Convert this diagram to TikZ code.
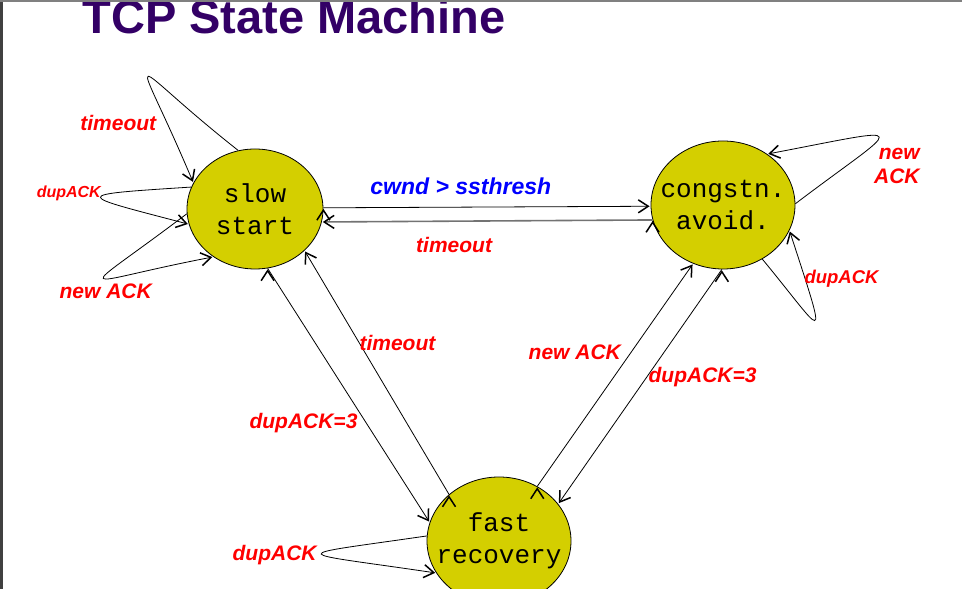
\documentclass[tikz,border=0pt]{standalone}
\usepackage{fontspec}
\setsansfont{Liberation Sans}
\setmonofont{Liberation Mono}
\usetikzlibrary{positioning, shapes.geometric, arrows.meta}
\definecolor{statefill}{RGB}{212,207,0}
\definecolor{titlepurple}{RGB}{51,0,102}
\tikzset{->, >={Straight Barb[length=10pt,width=13pt,line width=1.5pt,color=black]},
  fsm/.style={ellipse, draw, fill=statefill, inner xsep=-40pt, inner ysep=0pt,
    font=\ttfamily\fontsize{26}{32}\selectfont, align=center},
  lbl/.style={font=\sffamily\bfseries\itshape\fontsize{#1}{#1}\selectfont, text=red, inner sep=0pt},
  lbl/.default=21}

\begin{document}
\begin{tikzpicture}[x=1pt, y=1pt, shorten >=1pt, on grid, line width=0.8pt]
  \useasboundingbox (0,0) rectangle (962,589);
  \clip (0,0) rectangle (962,589);

  \node[anchor=base west, inner sep=0pt, text=titlepurple,
    font=\sffamily\bfseries\fontsize{47}{54}\selectfont] (title) at (82,555)
    {TCP State Machine};

  \node[fsm, minimum width=136pt, minimum height=120pt] (slow) at (255,380) {slow\\start};
  \node[fsm, minimum width=144pt, minimum height=128pt] (cong)
    [above right=4pt and 468pt of slow] {congstn.\\avoid.};
  \node[fsm, minimum width=144pt, minimum height=128pt] (fast)
    [below right=332pt and 244pt of slow] {fast\\recovery};

  \draw (slow.1) edge node[lbl=23, text=blue, pos=0.42, yshift=21pt] (lcwnd) {cwnd > ssthresh} (cong.181);
  \draw[black!55, line width=1.6pt] (cong.192) edge node[lbl, pos=0.6, yshift=-24pt] (ltimeout) {timeout} (slow.-11);

  \draw (slow.-78) edge node[lbl, pos=0.61, xshift=-63pt] (ldupl) {dupACK=3} (fast.165);
  \draw (fast.137) edge node[lbl, pos=0.62, xshift=38pt] (ltimeoutf) {timeout} (slow.-40);
  \draw (fast.55) edge node[lbl, pos=0.6, xshift=-56pt] (lnewf) {new ACK} (cong.243);
  \draw (cong.269) edge node[lbl, pos=0.46, xshift=56pt] (ldupr) {dupACK=3} (fast.32);

  % loops
  \draw (slow.106) .. controls +(-118,93) and +(-62,147) .. (slow.157)
    node[lbl, pos=0.5, xshift=-30pt, yshift=-46pt] (lslowto) {timeout};
  \draw (slow.161) .. controls +(-124,-8) and +(-114,30) .. (slow.193)
    node[lbl=16, pos=0.5, xshift=-32pt, yshift=4pt] (lslowdup) {dupACK};
  \draw (slow.184) .. controls +(-116,-88) and +(-141,-27) .. (slow.229)
    node[lbl, pos=0.5, xshift=2pt, yshift=-13pt] (lslownew) {new ACK};
  \draw (cong.1) .. controls +(108,82) and +(152,29) .. (cong.49)
    node[lbl, align=right, pos=0.5, xshift=18pt, yshift=-29pt] (lcongnew) {new\\[3pt]ACK};
  \draw (cong.-54) .. controls +(62,-75) and +(41,-126) .. (cong.-21)
    node[lbl=18.5, pos=0.5, xshift=27pt, yshift=41pt] (lcongdup) {dupACK};
  \draw (fast.176) .. controls +(-145,-21) and +(-148,22) .. (fast.207)
    node[lbl, pos=0.5, xshift=-47pt, yshift=-1pt] (lfastdup) {dupACK};

  \fill[black!75] (0,0) rectangle (3,589);
  \fill[black!50] (0,586.5) rectangle (962,589);
\end{tikzpicture}
\end{document}
